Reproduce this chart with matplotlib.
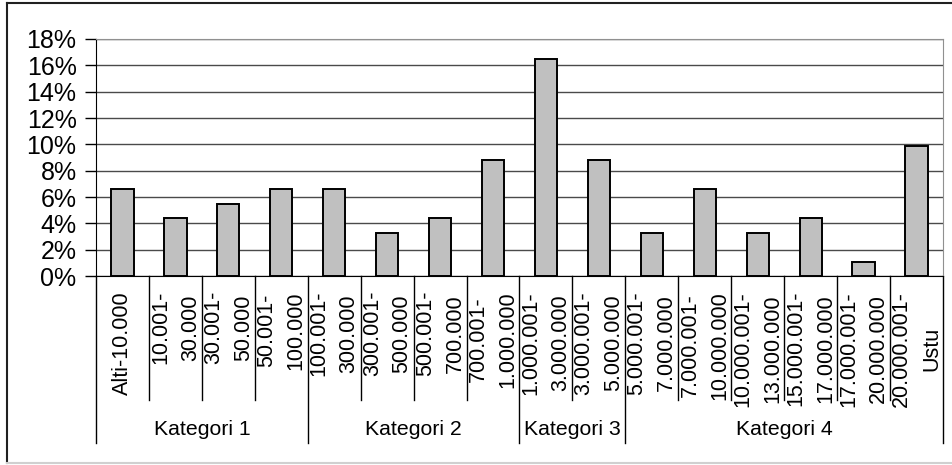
import numpy as np
import matplotlib.pyplot as plt
from matplotlib.lines import Line2D
from matplotlib.ticker import FuncFormatter

plt.rcParams['font.family'] = ['Liberation Sans', 'DejaVu Sans']

# bins and share of each bin (%)
labels = ["Alti-10.000", "10.001-\n30.000", "30.001-\n50.000", "50.001-\n100.000",
          "100.001-\n300.000", "300.001-\n500.000", "500.001-\n700.000", "700.001-\n1.000.000",
          "1.000.001-\n3.000.000", "3.000.001-\n5.000.000",
          "5.000.001-\n7.000.000", "7.000.001-\n10.000.000", "10.000.001-\n13.000.000",
          "15.000.001-\n17.000.000", "17.000.001-\n20.000.000", "20.000.001-\nUstu"]
values = [6.6, 4.4, 5.5, 6.6, 6.6, 3.3, 4.4, 8.8, 16.5, 8.8, 3.3, 6.6, 3.3, 4.4, 1.1, 9.9]
groups = ["Kategori 1", "Kategori 2", "Kategori 3", "Kategori 4"]
group_sizes = [4, 4, 2, 6]

W, H = 953, 465
fig = plt.figure(figsize=(W / 100, H / 100), dpi=100)
L, R, T, B = 96, 943, 39, 276
ax = fig.add_axes([L / W, 1 - B / H, (R - L) / W, (B - T) / H])

x = np.arange(len(values))
ax.bar(x, values, width=0.42, color='#c0c0c0', edgecolor='black', linewidth=1.4, zorder=3)

ax.set_xlim(-0.5, len(values) - 0.5)
ax.set_ylim(0, 18)
ax.set_yticks(np.arange(0, 19, 2))
ax.yaxis.set_major_formatter(FuncFormatter(lambda v, p: f"{v:.0f}%"))
ax.tick_params(axis='y', length=8, width=1, pad=6, labelsize=18, direction='out')
ax.grid(axis='y', color='#4a4a4a', linewidth=1, zorder=0)
ax.set_xticks([])

for side in ['top', 'right']:
    ax.spines[side].set_color('#909090')
ax.spines['left'].set_color('black')
ax.spines['bottom'].set_color('black')

# category labels and separators below the axis
tr = ax.get_xaxis_transform()
ph = B - T
def yfrac(ypix):
    return (B - ypix) / ph

for i, lab in enumerate(labels):
    ax.text(i, yfrac(291), lab, transform=tr, rotation=90, ha='center', va='top',
            multialignment='center', fontsize=15.5, linespacing=1.55, clip_on=False)

edges = np.cumsum([0] + group_sizes) - 0.5
for i in range(len(values) + 1):
    xe = i - 0.5
    bottom = yfrac(443) if xe in edges else yfrac(400)
    ax.add_line(Line2D([xe, xe], [0, bottom], transform=tr, color='black',
                       linewidth=1, clip_on=False))

start = 0
for g, n in zip(groups, group_sizes):
    ax.text(start + n / 2 - 0.5, yfrac(429), g, transform=tr, ha='center', va='center',
            fontsize=15.3, clip_on=False)
    start += n

# outer chart frame
def fx(px):
    return px / W
def fy(py):
    return 1 - py / H
fig.add_artist(Line2D([fx(7), fx(7)], [fy(3), fy(463)], color='#202020', linewidth=1.5))
fig.add_artist(Line2D([fx(7), fx(953)], [fy(3), fy(3)], color='#202020', linewidth=1.5))
fig.add_artist(Line2D([fx(7), fx(953)], [fy(463), fy(463)], color='#d0d0d0', linewidth=1.5))

fig.savefig("out.png", dpi=100)
